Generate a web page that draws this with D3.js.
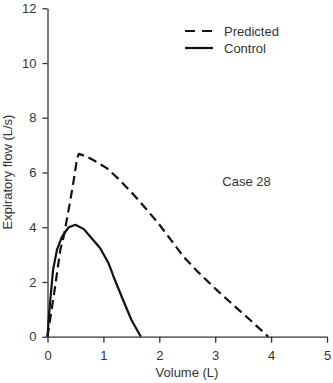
<!DOCTYPE html>
<html>
<head>
<meta charset="utf-8">
<script src="https://cdn.jsdelivr.net/npm/d3@7"></script>
<style>
  html, body { margin: 0; padding: 0; background: #fff; }
  svg { display: block; font-family: "Liberation Sans", Arial, Helvetica, sans-serif; }
</style>
</head>
<body>
<svg id="chart" width="333" height="383"></svg>
<script>
// Flow-volume curves, expiratory limb (volume in L, flow in L/s)
const predictedVolume = [0, 0.12, 0.23, 0.29, 0.41, 0.47, 0.53, 0.56, 0.70, 0.85, 1.06, 1.29, 1.50, 1.65, 1.83, 2.00, 2.43, 2.70, 3.02, 3.30, 3.62, 3.95];
const predictedFlow   = [0, 1.60, 3.18, 3.66, 5.00, 5.73, 6.52, 6.68, 6.58, 6.42, 6.16, 5.73, 5.28, 4.94, 4.51, 4.10, 2.93, 2.35, 1.72, 1.20, 0.62, 0];

const controlVolume = [0, 0.02, 0.05, 0.10, 0.17, 0.26, 0.38, 0.50, 0.65, 0.79, 0.94, 1.09, 1.15, 1.18, 1.35, 1.50, 1.67];
const controlFlow   = [0, 0.60, 1.34, 2.45, 3.18, 3.66, 4.00, 4.09, 3.93, 3.60, 3.24, 2.69, 2.38, 2.20, 1.35, 0.62, 0];

const xTicks = [0, 1, 2, 3, 4, 5];
const yTicks = [0, 2, 4, 6, 8, 10, 12];

const seriesNames = ["Predicted", "Control"];
const caseLabel = "Case 28";
const caseLabelAt = [3.56, 5.66];

const svg = d3.select("#chart");
const ink = "#111";
const textColor = "#333";

const x = d3.scaleLinear().domain([0, 5]).range([47.5, 327]);
const y = d3.scaleLinear().domain([0, 12]).range([336.7, 8.3]);

// Axes
const xAxis = svg.append("g")
  .attr("transform", `translate(0,${y(0)})`)
  .call(d3.axisBottom(x).tickValues(xTicks).tickFormat(d3.format("d"))
    .tickSize(6).tickPadding(8).tickSizeOuter(0));
const yAxis = svg.append("g")
  .attr("transform", `translate(${x(0)},0)`)
  .call(d3.axisLeft(y).tickValues(yTicks).tickFormat(d3.format("d"))
    .tickSize(5).tickPadding(6).tickSizeOuter(0));

[xAxis, yAxis].forEach(g => {
  g.select(".domain").attr("stroke", textColor).attr("stroke-width", 1.3);
  g.selectAll(".tick line").attr("stroke", textColor).attr("stroke-width", 1.3);
  g.selectAll(".tick text").attr("fill", textColor).style("font-size", "13px")
    .style("font-family", "'Liberation Sans', Arial, sans-serif");
});

// Axis titles
svg.append("text")
  .attr("x", 187).attr("y", 377)
  .attr("text-anchor", "middle")
  .attr("fill", textColor).style("font-size", "13px")
  .text("Volume (L)");
svg.append("text")
  .attr("transform", "translate(12,172) rotate(-90)")
  .attr("text-anchor", "middle")
  .attr("fill", textColor).style("font-size", "13px")
  .text("Expiratory flow (L/s)");

// Curves
const line = d3.line().x(d => x(d[0])).y(d => y(d[1]));
const predicted = d3.zip(predictedVolume, predictedFlow);
const control = d3.zip(controlVolume, controlFlow);

svg.append("path")
  .datum(predicted)
  .attr("d", line)
  .attr("fill", "none").attr("stroke", ink)
  .attr("stroke-width", 2.2)
  .attr("stroke-dasharray", "9,5")
  .attr("stroke-linejoin", "round");

svg.append("path")
  .datum(control)
  .attr("d", line)
  .attr("fill", "none").attr("stroke", ink)
  .attr("stroke-width", 2.2)
  .attr("stroke-linejoin", "round");

// Legend
const legend = svg.append("g");
const legendRows = [
  { name: seriesNames[0], dash: "10,7", y: 31 },
  { name: seriesNames[1], dash: null, y: 48 }
];
legendRows.forEach(r => {
  legend.append("line")
    .attr("x1", 185).attr("x2", 213)
    .attr("y1", r.y).attr("y2", r.y)
    .attr("stroke", ink).attr("stroke-width", 2.2)
    .attr("stroke-dasharray", r.dash);
  legend.append("text")
    .attr("x", 224).attr("y", r.y)
    .attr("dy", "0.35em")
    .attr("fill", textColor).style("font-size", "13px")
    .text(r.name);
});

// Case annotation
svg.append("text")
  .attr("x", x(caseLabelAt[0])).attr("y", y(caseLabelAt[1]))
  .attr("dy", "0.35em")
  .attr("text-anchor", "middle")
  .attr("fill", textColor).style("font-size", "13px")
  .text(caseLabel);
</script>
</body>
</html>
